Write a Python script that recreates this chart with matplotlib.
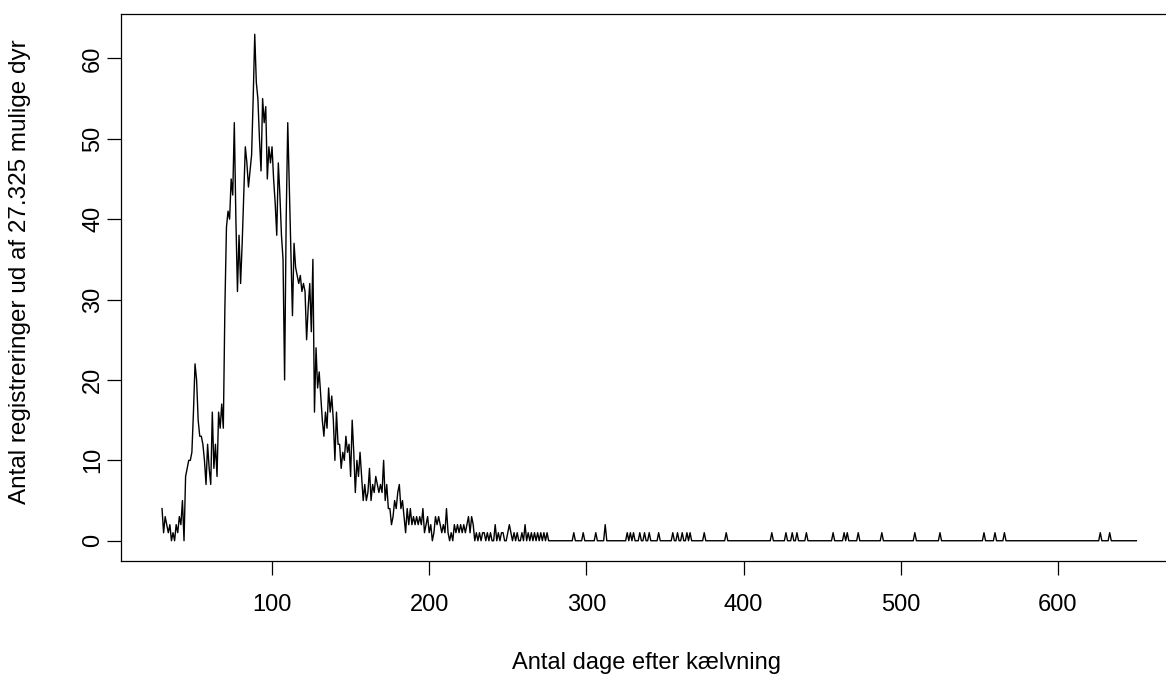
import matplotlib
matplotlib.use("Agg")
import matplotlib.pyplot as plt
import numpy as np

plt.rcParams['font.family'] = ['Liberation Sans', 'DejaVu Sans']

# Daily counts, day 30 .. 277
start_day = 30
main_counts = [
    4, 1, 3, 2, 1, 2, 0, 1, 0, 2,          # 30-39
    1, 3, 2, 5, 0, 8, 9, 10, 10, 11,       # 40-49
    16, 22, 20, 15, 13, 13, 12, 10, 7, 12, # 50-59
    9, 7, 16, 9, 12, 8, 16, 14, 17, 14,    # 60-69
    29, 39, 41, 40, 45, 43, 52, 40, 31, 38,  # 70-79
    32, 37, 43, 49, 47, 44, 46, 48, 55, 63,  # 80-89
    57, 55, 50, 46, 55, 52, 54, 45, 49, 47,  # 90-99
    49, 45, 42, 38, 47, 43, 38, 35, 20, 40,  # 100-109
    52, 44, 36, 28, 37, 34, 33, 32, 33, 31,  # 110-119
    32, 31, 25, 29, 32, 26, 35, 16, 24, 19,  # 120-129
    21, 18, 15, 13, 16, 14, 19, 16, 18, 15,  # 130-139
    10, 16, 12, 12, 9, 11, 10, 13, 11, 12,   # 140-149
    8, 15, 11, 6, 10, 8, 11, 8, 5, 7,        # 150-159
    5, 6, 9, 5, 7, 6, 8, 7, 6, 7,            # 160-169
    6, 10, 5, 7, 4, 4, 2, 3, 5, 4,           # 170-179
    6, 7, 4, 5, 3, 1, 4, 2, 4, 2,            # 180-189
    3, 2, 3, 2, 3, 2, 4, 1, 2, 3,            # 190-199
    1, 2, 0, 1, 3, 2, 3, 2, 1, 2,            # 200-209
    1, 4, 1, 0, 1, 0, 2, 1, 2, 1,            # 210-219
    2, 1, 2, 1, 2, 3, 1, 3, 2, 0,            # 220-229
    1, 0, 1, 0, 1, 1, 0, 1, 0, 1,            # 230-239
    0, 0, 2, 0, 1, 0, 1, 1, 0, 0,            # 240-249
    1, 2, 1, 0, 1, 0, 1, 0, 0, 1,            # 250-259
    0, 2, 0, 1, 0, 1, 0, 1, 0, 1,            # 260-269
    0, 1, 0, 1, 0, 1, 0, 0,                  # 270-277
]

# Sparse tail: days with registrations after day 277 (all others zero)
tail_days = [292, 298, 306, 312, 326, 328, 330, 334, 337, 340, 346, 355, 358,
             361, 364, 366, 375, 389, 418, 427, 431, 434, 440, 457, 464, 466,
             473, 488, 509, 525, 553, 560, 566, 627, 633]
tail_counts = [1, 1, 1, 2, 1, 1, 1, 1, 1, 1, 1, 1, 1,
               1, 1, 1, 1, 1, 1, 1, 1, 1, 1, 1, 1, 1,
               1, 1, 1, 1, 1, 1, 1, 1, 1]
end_day = 650

days = np.arange(start_day, end_day + 1)
counts = np.zeros(len(days))
counts[:len(main_counts)] = main_counts
for d, c in zip(tail_days, tail_counts):
    counts[d - start_day] = c

x_ticks = [100, 200, 300, 400, 500, 600]
y_ticks = [0, 10, 20, 30, 40, 50, 60]

W, H = 1166, 680
fig = plt.figure(figsize=(W / 100, H / 100), dpi=100)
left_px, right_px, top_px, bottom_px = 121, 1171, 14, 561
ax = fig.add_axes([left_px / W, (H - bottom_px) / H,
                   (right_px - left_px) / W, (bottom_px - top_px) / H])

ax.plot(days, counts, color='black', linewidth=1.0)
ax.set_xlim(3.9, 672)
ax.set_ylim(-2.52, 65.52)

ax.set_xticks(x_ticks)
ax.set_yticks(y_ticks)
ax.tick_params(axis='both', direction='out', length=10, width=0.9,
               colors='black', labelsize=17)
ax.tick_params(axis='x', pad=14)
ax.tick_params(axis='y', pad=10)
for lab in ax.get_yticklabels():
    lab.set_rotation(90)
    lab.set_va('center')
    lab.set_ha('center')

for s in ax.spines.values():
    s.set_linewidth(0.9)
    s.set_color('black')

fig.text(647 / W, 1 - 663 / H, 'Antal dage efter kælvning', ha='center',
         va='center', fontsize=17)
fig.text(20 / W, 1 - 272 / H, 'Antal registreringer ud af 27.325 mulige dyr',
         ha='center', va='center', rotation=90, fontsize=17.5)

fig.savefig('out.png', dpi=100)
